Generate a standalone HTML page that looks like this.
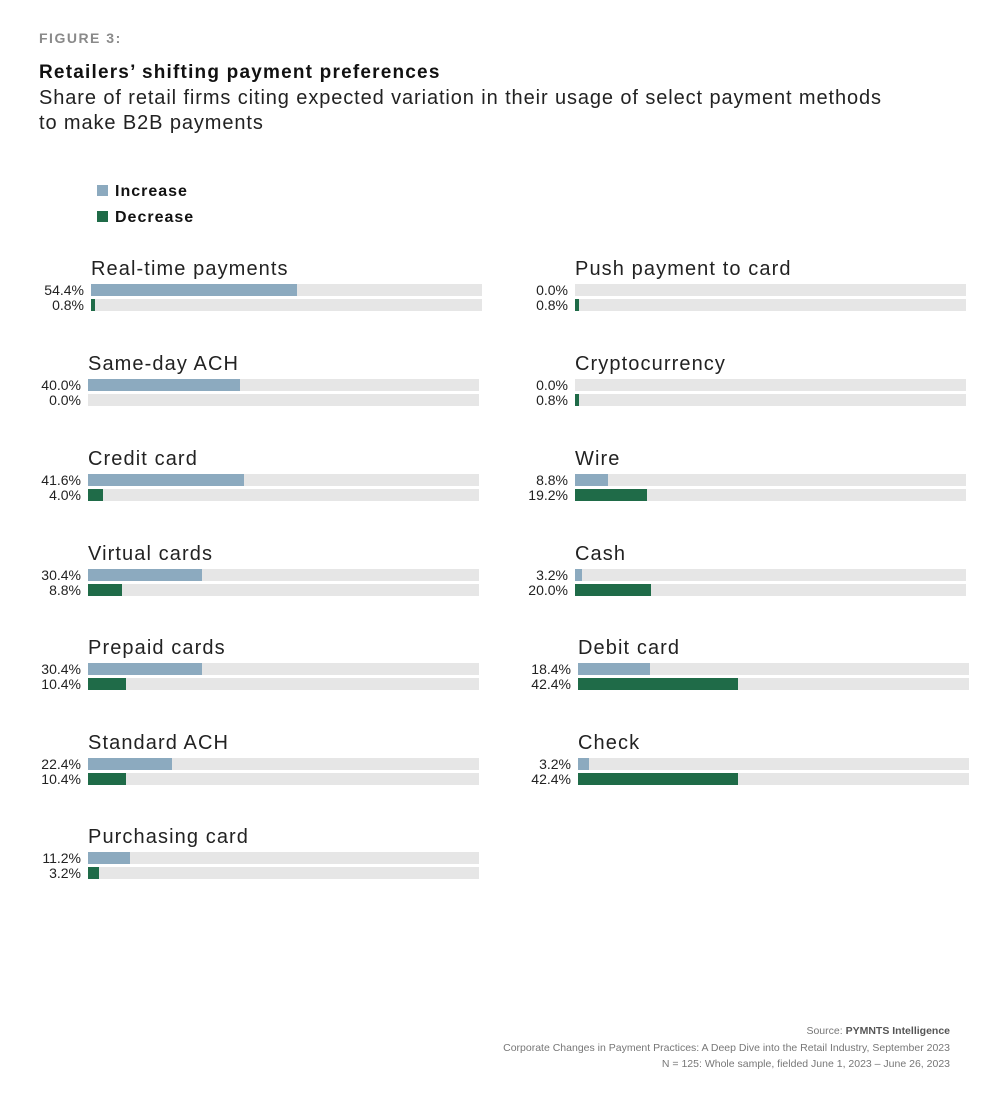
<!DOCTYPE html>
<html><head><meta charset="utf-8"><style>
body{margin:0;width:1002px;height:1100px;background:#fff;font-family:"Liberation Sans",sans-serif;position:relative;overflow:hidden;color:#222}
.a{position:absolute}
.g{position:absolute;width:391px}
.lb{position:absolute;left:0;top:-27px;font-size:20px;line-height:24px;white-space:nowrap;color:#222;letter-spacing:1.1px}
.t{position:absolute;left:0;width:391px;height:12px;background:#e6e6e6}
.t1{top:0}.t2{top:15px}
.b{position:absolute;left:0;top:0;height:12px}
.i{background:#8caabf}.d{background:#1f6b48}
.v{position:absolute;right:398px;width:70px;text-align:right;font-size:14px;line-height:14px;color:#222}
.v1{top:-1px}.v2{top:14px}
</style></head><body>
<div class="a" style="left:39px;top:30px;font-size:14px;font-weight:bold;color:#8a8a8a;letter-spacing:1.5px">FIGURE 3:</div>
<div class="a" style="left:39px;top:62px;font-size:19px;font-weight:bold;color:#111;letter-spacing:1.2px">Retailers’ shifting payment preferences</div>
<div class="a" style="left:39px;top:86px;font-size:20px;line-height:25px;color:#222;letter-spacing:0.9px">Share of retail firms citing expected variation in their usage of select payment methods<br>to make B2B payments</div>
<div class="a" style="left:97px;top:185px;width:11px;height:11px;background:#8caabf"></div>
<div class="a" style="left:115px;top:183px;font-size:16px;font-weight:bold;color:#111;letter-spacing:1px">Increase</div>
<div class="a" style="left:97px;top:211px;width:11px;height:11px;background:#1f6b48"></div>
<div class="a" style="left:115px;top:209px;font-size:16px;font-weight:bold;color:#111;letter-spacing:1px">Decrease</div>

<div class="g" style="left:91px;top:284px"><div class="lb">Real-time payments</div><div class="v v1">54.4%</div><div class="v v2">0.8%</div><div class="t t1"><div class="b i" style="width:206px"></div></div><div class="t t2"><div class="b d" style="width:4px"></div></div></div>
<div class="g" style="left:88px;top:379px"><div class="lb">Same-day ACH</div><div class="v v1">40.0%</div><div class="v v2">0.0%</div><div class="t t1"><div class="b i" style="width:152px"></div></div><div class="t t2"></div></div>
<div class="g" style="left:88px;top:474px"><div class="lb">Credit card</div><div class="v v1">41.6%</div><div class="v v2">4.0%</div><div class="t t1"><div class="b i" style="width:156px"></div></div><div class="t t2"><div class="b d" style="width:15px"></div></div></div>
<div class="g" style="left:88px;top:569px"><div class="lb">Virtual cards</div><div class="v v1">30.4%</div><div class="v v2">8.8%</div><div class="t t1"><div class="b i" style="width:114px"></div></div><div class="t t2"><div class="b d" style="width:34px"></div></div></div>
<div class="g" style="left:88px;top:663px"><div class="lb">Prepaid cards</div><div class="v v1">30.4%</div><div class="v v2">10.4%</div><div class="t t1"><div class="b i" style="width:114px"></div></div><div class="t t2"><div class="b d" style="width:38px"></div></div></div>
<div class="g" style="left:88px;top:758px"><div class="lb">Standard ACH</div><div class="v v1">22.4%</div><div class="v v2">10.4%</div><div class="t t1"><div class="b i" style="width:84px"></div></div><div class="t t2"><div class="b d" style="width:38px"></div></div></div>
<div class="g" style="left:88px;top:852px"><div class="lb">Purchasing card</div><div class="v v1">11.2%</div><div class="v v2">3.2%</div><div class="t t1"><div class="b i" style="width:42px"></div></div><div class="t t2"><div class="b d" style="width:11px"></div></div></div>

<div class="g" style="left:575px;top:284px"><div class="lb">Push payment to card</div><div class="v v1">0.0%</div><div class="v v2">0.8%</div><div class="t t1"></div><div class="t t2"><div class="b d" style="width:4px"></div></div></div>
<div class="g" style="left:575px;top:379px"><div class="lb">Cryptocurrency</div><div class="v v1">0.0%</div><div class="v v2">0.8%</div><div class="t t1"></div><div class="t t2"><div class="b d" style="width:4px"></div></div></div>
<div class="g" style="left:575px;top:474px"><div class="lb">Wire</div><div class="v v1">8.8%</div><div class="v v2">19.2%</div><div class="t t1"><div class="b i" style="width:33px"></div></div><div class="t t2"><div class="b d" style="width:72px"></div></div></div>
<div class="g" style="left:575px;top:569px"><div class="lb">Cash</div><div class="v v1">3.2%</div><div class="v v2">20.0%</div><div class="t t1"><div class="b i" style="width:7px"></div></div><div class="t t2"><div class="b d" style="width:76px"></div></div></div>
<div class="g" style="left:578px;top:663px"><div class="lb">Debit card</div><div class="v v1">18.4%</div><div class="v v2">42.4%</div><div class="t t1"><div class="b i" style="width:72px"></div></div><div class="t t2"><div class="b d" style="width:160px"></div></div></div>
<div class="g" style="left:578px;top:758px"><div class="lb">Check</div><div class="v v1">3.2%</div><div class="v v2">42.4%</div><div class="t t1"><div class="b i" style="width:11px"></div></div><div class="t t2"><div class="b d" style="width:160px"></div></div></div>

<div class="a" style="right:52px;top:1023px;text-align:right;font-size:10.5px;line-height:16.5px;color:#777">Source: <b style="color:#555">PYMNTS Intelligence</b><br>Corporate Changes in Payment Practices: A Deep Dive into the Retail Industry, September 2023<br>N = 125: Whole sample, fielded June 1, 2023 – June 26, 2023</div>
</body></html>
